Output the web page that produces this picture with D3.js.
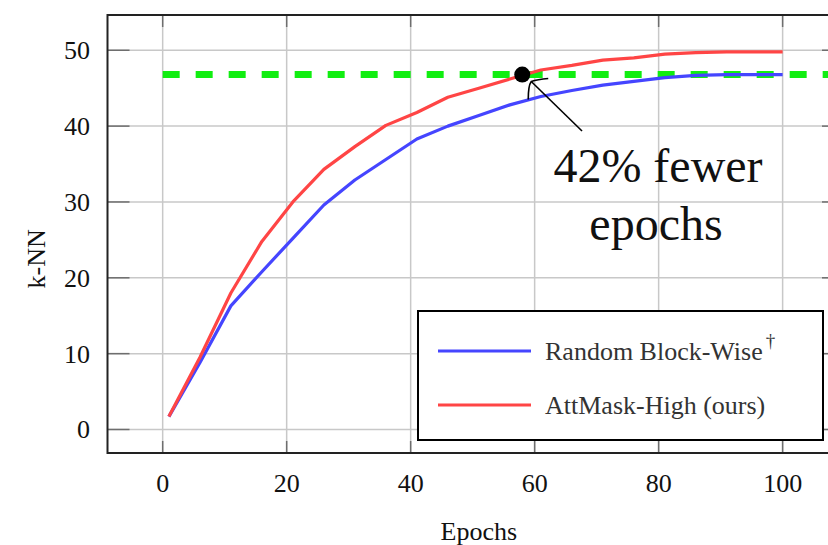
<!DOCTYPE html>
<html lang="en">
<head>
<meta charset="utf-8">
<title>k-NN vs epochs</title>
<script src="https://cdn.jsdelivr.net/npm/d3@7"></script>
<style>
  body { margin: 0; background: white; }
  svg text { font-family: "Times New Roman", "Liberation Serif", Tinos, "DejaVu Serif", serif; }
</style>
</head>
<body>
<div class="chart"></div>
<script>
// epochs at which k-NN was measured
const epochs = [1, 6, 11, 16, 21, 26, 31, 36, 41, 46, 51, 56, 61, 66, 71, 76, 81, 86, 91, 96, 100];
const randomBlockWise = [1.7, 8.8, 16.3, 20.8, 25.2, 29.6, 32.9, 35.6, 38.3, 40.0, 41.4, 42.8, 43.9, 44.7, 45.4, 45.9, 46.4, 46.7, 46.8, 46.8, 46.8];
const attMaskHigh = [1.7, 9.5, 18.0, 24.8, 30.0, 34.3, 37.3, 40.1, 41.8, 43.8, 45.0, 46.2, 47.4, 48.0, 48.7, 49.0, 49.5, 49.7, 49.8, 49.8, 49.8];
const baselineBest = 46.8;       // green dashed reference level
const markerEpoch = 58;          // where AttMask reaches the baseline
const xTicks = [0, 20, 40, 60, 80, 100];
const yTicks = [0, 10, 20, 30, 40, 50];
const seriesNames = ["Random Block-Wise", "AttMask-High (ours)"];

const width = 828, height = 545;
const pLeft = 107.5, pTop = 15, pRight = 844, pBottom = 453;

const x = d3.scaleLinear().domain([-8.9, 109.9]).range([pLeft, pRight]);
const y = d3.scaleLinear().domain([-3.1, 54.65]).range([pBottom, pTop]);

const svg = d3.select(".chart").append("svg")
  .attr("width", width).attr("height", height)
  .style("display", "block")
  .style("overflow", "hidden");

// grid
svg.append("g").selectAll("line").data(xTicks).enter().append("line")
  .attr("x1", d => x(d)).attr("x2", d => x(d))
  .attr("y1", pTop).attr("y2", pBottom)
  .attr("stroke", "#c8c8c8").attr("stroke-width", 1.5);
svg.append("g").selectAll("line").data(yTicks).enter().append("line")
  .attr("x1", pLeft).attr("x2", pRight)
  .attr("y1", d => y(d)).attr("y2", d => y(d))
  .attr("stroke", "#c8c8c8").attr("stroke-width", 1.5);

// inward tick marks on all four sides
const tickLen = 12;
const tk = svg.append("g").attr("stroke", "#6e6e6e").attr("stroke-width", 1.5);
xTicks.forEach(d => {
  tk.append("line").attr("x1", x(d)).attr("x2", x(d)).attr("y1", pTop).attr("y2", pTop + tickLen);
  tk.append("line").attr("x1", x(d)).attr("x2", x(d)).attr("y1", pBottom).attr("y2", pBottom - tickLen);
});
yTicks.forEach(d => {
  tk.append("line").attr("x1", pLeft).attr("x2", pLeft + 22).attr("y1", y(d)).attr("y2", y(d));
  tk.append("line").attr("x1", pRight).attr("x2", pRight - 22).attr("y1", y(d)).attr("y2", y(d));
});

// frame
svg.append("rect").attr("x", pLeft).attr("y", pTop)
  .attr("width", pRight - pLeft).attr("height", pBottom - pTop)
  .attr("fill", "none").attr("stroke", "#222").attr("stroke-width", 2);

// tick labels
svg.append("g").selectAll("text").data(xTicks).enter().append("text")
  .attr("x", d => x(d)).attr("y", 492)
  .attr("text-anchor", "middle").attr("font-size", 26).attr("fill", "#111")
  .text(d => d);
svg.append("g").selectAll("text").data(yTicks).enter().append("text")
  .attr("x", 90).attr("y", d => y(d) + 9)
  .attr("text-anchor", "end").attr("font-size", 26).attr("fill", "#111")
  .text(d => d);

// axis titles
svg.append("text").attr("x", x(51)).attr("y", 540)
  .attr("text-anchor", "middle").attr("font-size", 26).attr("fill", "#111")
  .text("Epochs");
svg.append("text").attr("transform", `translate(45,${y(22.5)}) rotate(-90)`)
  .attr("text-anchor", "middle").attr("font-size", 26).attr("fill", "#111")
  .text("k-NN");

// green dashed baseline level
svg.append("line")
  .attr("x1", x(0)).attr("x2", pRight)
  .attr("y1", y(baselineBest)).attr("y2", y(baselineBest))
  .attr("stroke", "#11ee11").attr("stroke-width", 7)
  .attr("stroke-dasharray", "17,16");

// curves
const line = d3.line().x((d, i) => x(epochs[i])).y(d => y(d));
const colors = ["#4545ff", "#ff4545"];
[randomBlockWise, attMaskHigh].forEach((s, k) => {
  svg.append("path").datum(s).attr("d", line)
    .attr("fill", "none").attr("stroke", colors[k]).attr("stroke-width", 3.2)
    .attr("stroke-linejoin", "round");
});

// marker + arrow
const mx = x(markerEpoch), my = y(baselineBest);
svg.append("circle").attr("cx", mx).attr("cy", my).attr("r", 8).attr("fill", "black");
const tipX = mx + 9, tipY = my + 7;
svg.append("line").attr("x1", 582).attr("y1", 131).attr("x2", tipX).attr("y2", tipY)
  .attr("stroke", "black").attr("stroke-width", 1.6);
svg.append("path")
  .attr("d", `M${tipX - 3},${tipY + 18} Q${tipX - 3},${tipY + 4} ${tipX},${tipY} Q${tipX + 6},${tipY - 2} ${tipX + 17},${tipY - 3}`)
  .attr("fill", "none").attr("stroke", "black").attr("stroke-width", 1.6);

// annotation text
const ann = svg.append("g").attr("font-size", 48).attr("fill", "#111").attr("text-anchor", "middle");
ann.append("text").attr("x", 658).attr("y", 182).text("42% fewer");
ann.append("text").attr("x", 656).attr("y", 240).text("epochs");

// legend
const lg = svg.append("g");
lg.append("rect").attr("x", 418).attr("y", 311).attr("width", 405).attr("height", 129)
  .attr("fill", "white").attr("stroke", "black").attr("stroke-width", 2);
const rowsY = [351, 405];
seriesNames.forEach((name, k) => {
  lg.append("line").attr("x1", 438).attr("x2", 531).attr("y1", rowsY[k]).attr("y2", rowsY[k])
    .attr("stroke", colors[k]).attr("stroke-width", 3.2);
  const t = lg.append("text").attr("x", 545).attr("y", rowsY[k] + 9)
    .attr("font-size", 26).attr("fill", "#333").text(name);
  if (k === 0) {
    t.append("tspan").attr("font-size", 19).attr("dx", 3).attr("dy", -13).text("†");
  }
});
</script>
</body>
</html>
